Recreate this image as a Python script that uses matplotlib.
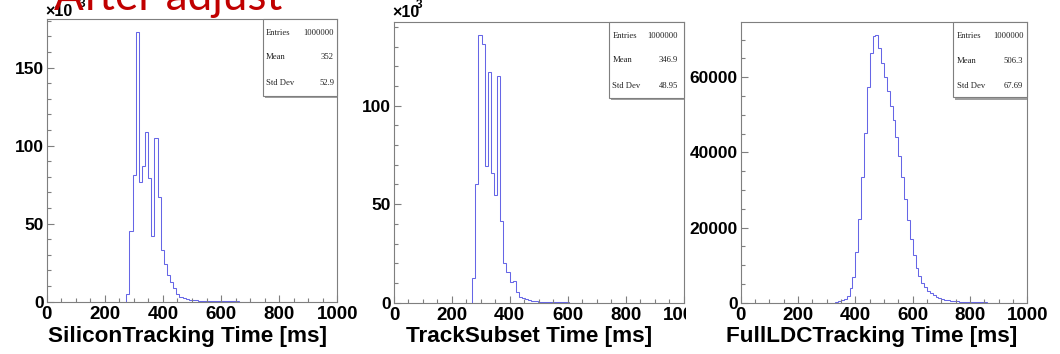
import numpy as np
import matplotlib
matplotlib.use("Agg")
import matplotlib.pyplot as plt
from matplotlib.ticker import MultipleLocator, FixedLocator, FuncFormatter
from matplotlib.patches import Rectangle

W, H, DPI = 1060, 354, 100

# ---------------- data ----------------
# SiliconTracking time histogram, counts in thousands
si_start, si_width = 274.0, 10.75
si_counts_k = [4.7, 45.3, 81.2, 172.7, 76.5, 87.2, 108.6, 79.0, 42.3, 104.7, 67.3,
               33.1, 24.0, 17.0, 12.5, 8.6, 5.0, 3.2, 2.4, 1.8, 1.4, 1.1, 0.9, 0.75,
               0.6, 0.5, 0.45, 0.4, 0.35, 0.3, 0.27, 0.24, 0.2, 0.18, 0.15, 0.13,
               0.12, 0.1, 0.08, 0.07, 0.05]
# TrackSubset time histogram, counts in thousands
ts_start, ts_width = 270.0, 10.75
ts_counts_k = [12.4, 60.3, 136.0, 131.5, 69.4, 117.3, 65.7, 54.7, 115.2, 41.7, 20.0,
               15.7, 10.4, 10.9, 5.6, 2.8, 2.4, 2.1, 1.5, 1.0, 0.8, 0.6, 0.5, 0.4,
               0.35, 0.3, 0.25, 0.2, 0.2, 0.15, 0.12, 0.1, 0.08, 0.06, 0.05, 0.04,
               0.03, 0.02, 0.02, 0.01]
# FullLDCTracking time histogram, counts
fl_start, fl_width = 330.0, 10.0
fl_counts = [300, 500, 800, 1100, 1800, 3800, 6900, 13600, 22200, 33500, 45200,
             57500, 66300, 71000, 71200, 67700, 63700, 60000, 56400, 52300, 48600,
             44200, 39000, 33500, 27500, 22000, 16900, 12700, 9100, 7100, 5200,
             4300, 3200, 2500, 2000, 1600, 1300, 1050, 850, 700, 550, 450, 370,
             300, 250, 200, 170, 140, 120, 100, 85, 70, 60, 50, 45, 40, 35, 30,
             25, 20, 18, 15, 12, 10, 8, 6, 5]

x_titles = ["SiliconTracking Time [ms]", "TrackSubset Time [ms]", "FullLDCTracking Time [ms]"]
x_ticks = [0, 200, 400, 600, 800, 1000]
y_max = [181.0, 142.3, 74600]
y_major = [50, 50, 20000]
y_minor = [10, 10, 5000]
stat_names = ["Entries", "Mean", "Std Dev"]
stat_values = [["1000000", "352", "52.9"],
               ["1000000", "346.9", "48.95"],
               ["1000000", "506.3", "67.69"]]
headline = "After adjust"

# ---------------- layout (pixels) ----------------
frames = [(46.7, 19.3, 337.3, 301.7),
          (394.0, 22.3, 683.5, 302.7),
          (740.7, 22.3, 1027.3, 302.7)]
stat_boxes = [(262.7, 96.0, 266.0, 334.0, [33.3, 57.3, 82.7]),
              (608.7, 97.7, 612.3, 678.0, [35.7, 60.3, 85.7]),
              (953.3, 97.3, 956.7, 1023.3, [35.7, 60.7, 85.7])]
title_cx = [187, 529, 872]

def fx(p):
    return p / W

def fy(p):
    return 1 - p / H

FRAME = "#7f7f7f"
LINE = "#6666e6"
SANS = "Liberation Sans"
SERIF = "Liberation Serif"

fig = plt.figure(figsize=(W / DPI, H / DPI), dpi=DPI)
fig.patch.set_facecolor("white")

hists = [(si_start, si_width, si_counts_k),
         (ts_start, ts_width, ts_counts_k),
         (fl_start, fl_width, fl_counts)]

axes = []
for i, (l, t, r, b) in enumerate(frames):
    ax = fig.add_axes([fx(l), fy(b), (r - l) / W, (b - t) / H])
    ax.set_zorder(2 if i == 2 else 1)
    start, width, vals = hists[i]
    edges = start + width * np.arange(len(vals) + 1)
    ax.stairs(vals, edges, color=LINE, linewidth=0.75, baseline=0)
    ax.set_xlim(0, 1000)
    ax.set_ylim(0, y_max[i])
    ax.xaxis.set_major_locator(FixedLocator(x_ticks))
    ax.xaxis.set_minor_locator(MultipleLocator(50))
    ax.yaxis.set_major_locator(MultipleLocator(y_major[i]))
    ax.yaxis.set_minor_locator(MultipleLocator(y_minor[i]))
    ax.yaxis.set_major_formatter(FuncFormatter(lambda v, p: "%d" % round(v)))
    ax.xaxis.set_major_formatter(FuncFormatter(lambda v, p: "%d" % round(v)))
    for s in ax.spines.values():
        s.set_color(FRAME)
        s.set_linewidth(0.8)
    ax.tick_params(which="both", direction="in", color=FRAME, width=0.8,
                   top=False, right=False)
    ax.tick_params(which="major", length=5.2)
    ax.tick_params(which="minor", length=2.8)
    ax.tick_params(axis="x", which="major", labelsize=13.5, pad=3.4)
    ax.tick_params(axis="y", which="major", labelsize=12.5, pad=2.2)
    for lab in ax.get_xticklabels() + ax.get_yticklabels():
        lab.set_fontweight("bold")
        lab.set_fontfamily(SANS)
    axes.append(ax)

# cover of the third screenshot (cuts the 1000 label of the middle panel)
fig.patches.append(Rectangle((fx(686), 0), 1 - fx(686), 1, transform=fig.transFigure,
                             facecolor="white", edgecolor="none", zorder=1.5))

# stats boxes
for i, (bl, bb, tl, tr, ys) in enumerate(stat_boxes):
    l, t, r, b = frames[i]
    ax = axes[i]
    ax.add_patch(Rectangle((fx(bl + 2), fy(bb + 2.2)), fx(r) - fx(bl + 2), fy(bb) - fy(bb + 2.2),
                           transform=fig.transFigure, facecolor="#a0a0a0",
                           edgecolor="none", zorder=4, clip_on=False))
    ax.add_patch(Rectangle((fx(bl), fy(bb)), fx(r) - fx(bl), fy(t) - fy(bb),
                           transform=fig.transFigure, facecolor="white",
                           edgecolor=FRAME, linewidth=0.8, zorder=5, clip_on=False))
    for name, val, yy in zip(stat_names, stat_values[i], ys):
        ax.text(fx(tl), fy(yy), name, transform=fig.transFigure, ha="left", va="center",
                fontsize=6.2, family=SERIF, color="#222222", zorder=6)
        ax.text(fx(tr), fy(yy), val, transform=fig.transFigure, ha="right", va="center",
                fontsize=6.2, family=SERIF, color="#222222", zorder=6)

# x axis titles
for i, ttl in enumerate(x_titles):
    fig.text(fx(title_cx[i]), fy(342), ttl, ha="center", va="baseline",
             fontsize=16.2, fontweight="bold", family=SANS, zorder=3)

# x10^3 multipliers for the first two panels
for (xl, yc, xs, ys) in [(45.5, 11.5, 78.5, 4.0), (392.5, 12.8, 415.5, 5.0)]:
    fig.text(fx(xl), fy(yc), "\u00d710", ha="left", va="center", fontsize=11.5,
             fontweight="bold", family=SANS, zorder=3)
    fig.text(fx(xs), fy(ys), "3", ha="left", va="center", fontsize=8.5,
             fontweight="bold", family=SANS, zorder=3)

# red slide headline, cut at the top edge
ht = fig.text(fx(54), fy(10.5), headline, ha="left", va="baseline", fontsize=34,
              color="#c00000", family="Lato", zorder=4)
fig.canvas.draw()
wpx = ht.get_window_extent().width
ht.set_fontsize(34 * 228.0 / wpx)

fig.savefig("out.png", dpi=DPI, facecolor="white")
